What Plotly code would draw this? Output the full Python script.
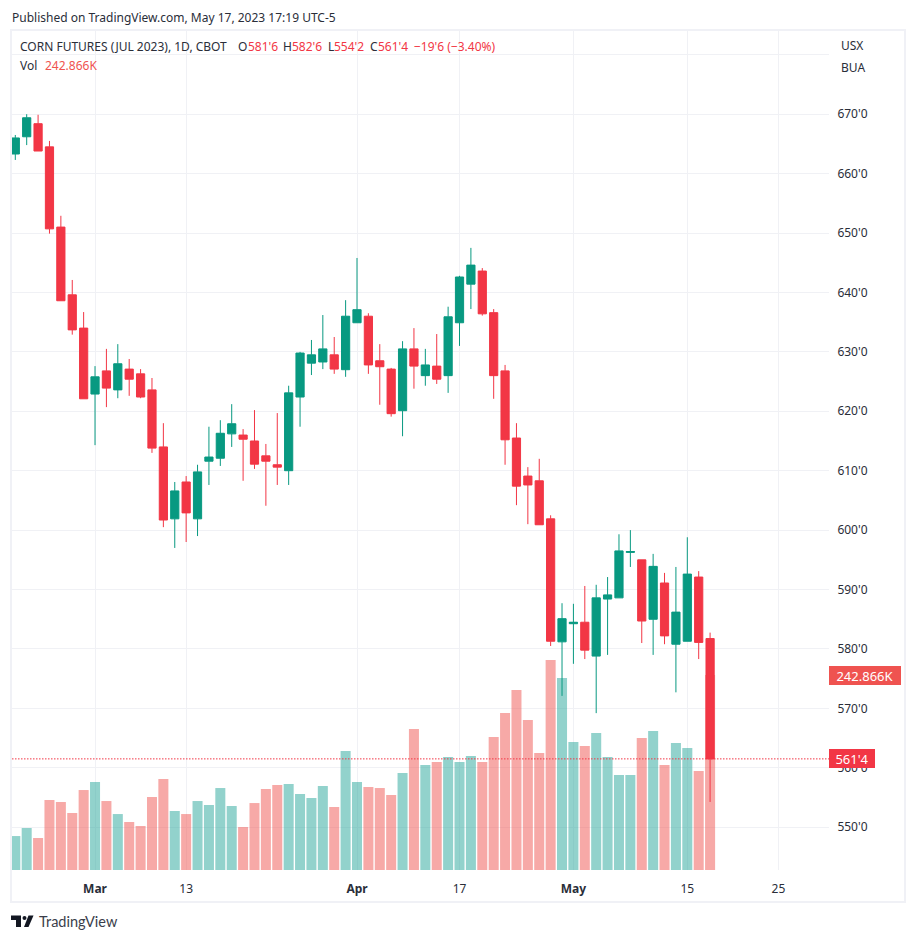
import pandas as pd
import plotly.graph_objects as go

WIDTH = 916
HEIGHT = 941

# plot area in page pixels
LEFT = 12
RIGHT = 829
TOP = 31
BOTTOM = 870

UP = "#089981"
DOWN = "#F23645"
UP_VOL = "rgba(38,166,154,0.5)"
DOWN_VOL = "rgba(239,83,80,0.5)"
GRID = "#F0F1F5"
FRAME = "#F0F1F6"
TEXT = "#2A2E39"
FONT = "Noto Sans"

# trading days, CBOT closed on Feb 20 and Apr 7
calendar = pd.bdate_range("2023-02-17", "2023-05-26")
calendar = calendar.drop(pd.to_datetime(["2023-02-20", "2023-04-07"]))

data = {
    "open": [663.3, 666.2, 668.4, 664.5, 651.0, 639.6, 634.0, 622.9, 626.8, 623.6, 627.1, 626.3, 623.6, 614.0, 601.9, 608.1,
             601.9, 611.6, 612.1, 616.2, 616.0, 615.0, 612.5, 611.0, 610.0, 622.4, 628.1, 628.3, 629.5, 627.0, 634.9, 636.0,
             628.5, 627.1, 620.1, 630.5, 626.0, 627.6, 626.0, 634.9, 641.4, 643.6, 636.6, 626.8, 615.5, 609.1, 608.3, 601.9,
             581.2, 584.25, 584.5, 578.8, 588.4, 588.6, 596.25, 595.0, 585.0, 591.1, 580.8, 581.3, 592.1, 581.75],
    "high": [666.5, 670.0, 669.9, 665.5, 652.9, 642.1, 636.7, 627.6, 630.5, 631.3, 628.8, 627.1, 625.6, 618.0, 608.1, 609.1,
             611.0, 617.4, 618.5, 621.2, 617.0, 620.2, 614.5, 619.7, 624.3, 630.0, 632.0, 636.2, 632.5, 638.7, 645.8, 636.5,
             631.3, 627.3, 631.8, 634.0, 630.5, 633.0, 637.6, 642.8, 647.5, 644.1, 637.2, 627.8, 618.0, 610.6, 612.0, 602.5,
             587.7, 587.6, 590.6, 590.8, 592.1, 599.3, 600.0, 595.0, 596.0, 592.8, 593.8, 598.8, 593.1, 582.75],
    "low": [662.3, 664.8, 663.8, 649.9, 638.6, 632.9, 622.1, 614.3, 620.7, 622.2, 622.6, 622.2, 613.0, 600.5, 597.0, 598.0,
            599.0, 607.6, 610.8, 614.0, 608.3, 610.3, 604.1, 607.6, 607.6, 617.4, 626.1, 627.1, 626.3, 625.8, 634.9, 626.3,
            621.1, 619.1, 615.8, 623.8, 624.3, 624.6, 623.1, 631.0, 637.2, 636.1, 622.1, 611.0, 604.2, 601.0, 600.9, 580.5,
            572.1, 577.5, 578.3, 569.2, 579.0, 588.6, 593.8, 581.0, 579.0, 580.8, 572.7, 581.3, 578.3, 554.25],
    "close": [666.0, 669.4, 663.8, 650.7, 638.6, 633.7, 622.1, 625.8, 623.9, 628.0, 625.4, 622.4, 613.8, 601.7, 606.6, 602.9,
              609.8, 612.3, 616.3, 617.9, 615.3, 611.1, 611.6, 610.6, 623.1, 629.8, 629.5, 630.5, 627.1, 636.0, 637.1, 627.8,
              627.5, 619.6, 630.5, 627.6, 627.8, 625.4, 635.9, 642.6, 644.6, 636.4, 626.0, 615.2, 607.4, 607.6, 600.9, 581.3,
              585.1, 584.5, 579.8, 588.6, 589.1, 596.5, 596.4, 584.7, 593.9, 582.2, 586.2, 592.6, 581.1, 561.5],
    # volume in thousands
    "volume": [42.3, 52.3, 39.9, 87.2, 84.7, 71.0, 99.6, 109.6, 85.9, 69.7, 59.8, 54.8, 90.9, 113.3, 73.5, 69.7,
               85.9, 81.0, 102.1, 79.7, 53.6, 83.4, 100.9, 105.9, 107.1, 94.7, 89.7, 104.6, 78.5, 148.2, 109.6, 103.4,
               102.1, 93.4, 120.8, 175.6, 130.8, 134.5, 140.7, 134.5, 142.0, 134.5, 165.7, 195.5, 224.2, 186.8, 145.7, 261.6,
               239.1, 159.4, 154.4, 170.6, 140.7, 118.3, 118.3, 164.4, 173.1, 130.8, 158.2, 151.9, 123.3, 242.866],
}
df = pd.DataFrame(data)
df["bar"] = df.index
df["date"] = calendar[: len(df)]

vol_colors = [UP_VOL if c >= o else DOWN_VOL for o, c in zip(df["open"], df["close"])]


def bar_of(day):
    return calendar.get_loc(pd.Timestamp(day))


def page_x(px):
    return (px - LEFT) / (RIGHT - LEFT)


def page_y(py):
    return (BOTTOM - py) / (BOTTOM - TOP)


x_ticks = [("2023-03-01", "<b>Mar</b>"), ("2023-03-13", "13"), ("2023-04-03", "<b>Apr</b>"), ("2023-04-17", "17"),
           ("2023-05-01", "<b>May</b>"), ("2023-05-15", "15"), ("2023-05-25", "25")]

fig = go.Figure()

fig.add_trace(go.Bar(x=df["bar"], y=df["volume"], marker=dict(color=vol_colors, line_width=0), yaxis="y", name="Vol"))

fig.add_trace(go.Candlestick(
    x=df["bar"],
    open=df["open"],
    high=df["high"],
    low=df["low"],
    close=df["close"],
    yaxis="y2",
    whiskerwidth=0,
    increasing=dict(line=dict(color=UP, width=1), fillcolor=UP),
    decreasing=dict(line=dict(color=DOWN, width=1), fillcolor=DOWN),
    name="ZCN2023",
))

price_ticks = list(range(550, 690, 10))
price_text = [f"{p}'0" if p < 680 else "" for p in price_ticks]

fig.update_layout(
    width=WIDTH,
    height=HEIGHT,
    margin=dict(l=LEFT, r=WIDTH - RIGHT, t=TOP, b=HEIGHT - BOTTOM, autoexpand=False),
    paper_bgcolor="white",
    plot_bgcolor="white",
    showlegend=False,
    bargap=0.12,
    boxgap=0.28,
    boxgroupgap=0,
    font=dict(family=FONT, size=12, color=TEXT),
    xaxis=dict(
        range=[-0.29, 71.44],
        rangeslider=dict(visible=False),
        tickvals=[bar_of(d) for d, _ in x_ticks],
        ticktext=[t for _, t in x_ticks],
        tickangle=0,
        ticks="outside",
        ticklen=8,
        tickcolor="rgba(0,0,0,0)",
        showline=False,
        zeroline=False,
        showgrid=True,
        gridcolor=GRID,
        gridwidth=1,
    ),
    yaxis=dict(range=[0, 1045], visible=False, showgrid=False, zeroline=False, fixedrange=True),
    yaxis2=dict(
        range=[542.8, 684.0],
        overlaying="y",
        side="right",
        tickvals=price_ticks,
        ticktext=price_text,
        ticks="outside",
        ticklen=5,
        tickcolor="rgba(0,0,0,0)",
        showline=False,
        zeroline=False,
        showgrid=True,
        gridcolor=GRID,
        gridwidth=1,
    ),
)

# outer frame and last price line
fig.add_shape(type="rect", xref="paper", yref="paper", x0=page_x(11), x1=page_x(905), y0=page_y(902), y1=page_y(30),
              line=dict(color=FRAME, width=2), layer="below")
fig.add_shape(type="line", xref="paper", yref="y2", x0=0, x1=1, y0=df["close"].iloc[-1], y1=df["close"].iloc[-1],
              line=dict(color=DOWN, width=1, dash="1.5px,1.5px"))


def add_text(px, py, text, color=TEXT, size=12, family=FONT):
    fig.add_annotation(xref="paper", yref="paper", x=page_x(px), y=page_y(py), text=text, showarrow=False,
                       xanchor="left", yanchor="middle", borderpad=0, font=dict(color=color, size=size, family=family))


add_text(11, 17, "Published on TradingView.com, May 17, 2023 17:19 UTC-5")
add_text(19, 47, "CORN FUTURES (JUL 2023), 1D, CBOT")
add_text(19, 66, "Vol")
add_text(44, 66, "242.866K", color="#EF5350")

for lx, label, vx, value in [(237, "O", 247, "581'6"), (282, "H", 291, "582'6"), (327, "L", 333, "554'2"), (369, "C", 377, "561'4")]:
    add_text(lx, 47, label)
    add_text(vx, 47, value, color=DOWN)
add_text(413, 47, "−19'6 (−3.40%)", color=DOWN)

add_text(840, 46, "USX")
add_text(840, 68, "BUA")

# last value tags on the price scale
fig.add_annotation(xref="paper", yref="y2", x=1, y=df["close"].iloc[-1], text="561'4", showarrow=False,
                   xanchor="left", yanchor="middle", width=46, height=19, borderpad=0, borderwidth=0,
                   bgcolor=DOWN, font=dict(color="white", size=13))
fig.add_annotation(xref="paper", yref="y", x=1, y=df["volume"].iloc[-1], text="242.866K", showarrow=False,
                   xanchor="left", yanchor="middle", width=72, height=19, borderpad=0, borderwidth=0,
                   bgcolor="#EF5350", font=dict(color="white", size=13))

# TradingView logo
logo = "#131722"
t_mark = f"M {page_x(11)} {page_y(915.5)} L {page_x(21)} {page_y(915.5)} L {page_x(21)} {page_y(927)} L {page_x(16)} {page_y(927)} L {page_x(16)} {page_y(920)} L {page_x(11)} {page_y(920)} Z"
v_mark = f"M {page_x(28.5)} {page_y(915.5)} L {page_x(33.5)} {page_y(915.5)} L {page_x(28.5)} {page_y(927)} L {page_x(24)} {page_y(927)} Z"
fig.add_shape(type="path", xref="paper", yref="paper", path=t_mark, fillcolor=logo, line_width=0)
fig.add_shape(type="path", xref="paper", yref="paper", path=v_mark, fillcolor=logo, line_width=0)
fig.add_shape(type="circle", xref="paper", yref="paper", x0=page_x(22.5), x1=page_x(26.5), y0=page_y(920), y1=page_y(916),
              fillcolor=logo, line_width=0)
add_text(38, 921, "TradingView", color="#3A3E4A", size=14.5, family="Lato")

fig.write_html("out.html", config={"displayModeBar": False}, post_script="document.body.style.margin='0';")
